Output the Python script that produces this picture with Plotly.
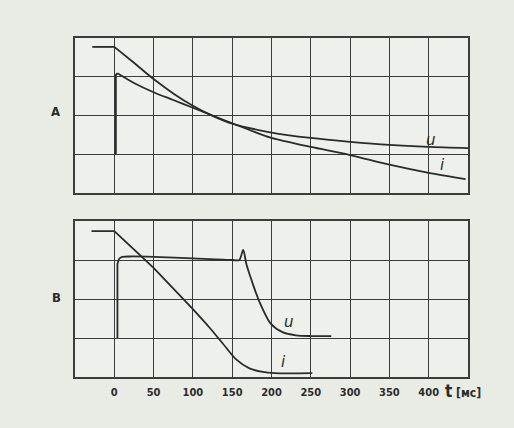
import plotly.graph_objects as go

# ---- data ----
t_ticks = [0, 50, 100, 150, 200, 250, 300, 350, 400]
tick_text = ["0", "50", "100", "150", "200", "250", "300", "350", "400"]

# Panel A
uA_t = [-28, 0, 25, 50, 75, 100, 125, 150, 200, 250, 300, 350, 400, 450]
uA_v = [3.77, 3.77, 3.36, 2.94, 2.57, 2.25, 1.99, 1.79, 1.56, 1.42, 1.32, 1.24, 1.19, 1.16]
iA_t = [2, 2, 4, 25, 50, 75, 100, 125, 150, 200, 250, 300, 350, 400, 447]
iA_v = [1.0, 3.05, 3.09, 2.84, 2.6, 2.4, 2.2, 2.0, 1.8, 1.42, 1.19, 0.98, 0.73, 0.52, 0.36]

# Panel B
iB_t = [-29, 0, 50, 100, 121, 138, 155, 172, 189, 204, 252]
iB_v = [3.74, 3.74, 2.8, 1.74, 1.27, 0.86, 0.45, 0.22, 0.13, 0.1, 0.1]
uB_t = [4, 4, 6, 10, 20, 50, 100, 150, 159, 164, 168, 174, 184, 199, 214, 231, 250, 276]
uB_v = [1.0, 2.9, 3.03, 3.08, 3.09, 3.08, 3.04, 3.0, 3.0, 3.26, 2.9, 2.52, 1.96, 1.37, 1.15, 1.07, 1.05, 1.05]

ink = "#2b2b2b"
grid = "#3c3c3c"

fig = go.Figure()


def add_curve(t, v, xa, ya, split):
    """straight lead-in (flat/vertical) segments + smooth decaying tail"""
    fig.add_trace(go.Scatter(x=t[:split + 1], y=v[:split + 1], mode="lines",
                             line=dict(color=ink, width=1.8), xaxis=xa, yaxis=ya, hoverinfo="skip"))
    fig.add_trace(go.Scatter(x=t[split:], y=v[split:], mode="lines",
                             line=dict(color=ink, width=1.8, shape="spline", smoothing=0.8),
                             xaxis=xa, yaxis=ya, hoverinfo="skip"))


add_curve(uA_t, uA_v, "x", "y", 1)
add_curve(iA_t, iA_v, "x", "y", 2)
add_curve(iB_t, iB_v, "x2", "y2", 3)
add_curve(uB_t, uB_v, "x2", "y2", 2)

ax_common = dict(range=[-50, 450], tickvals=t_ticks, showgrid=True, gridcolor=grid, gridwidth=1.3,
                 showline=True, linecolor=grid, linewidth=1.5, mirror=True, zeroline=False,
                 fixedrange=True)
ay_common = dict(range=[0, 4], dtick=1, showgrid=True, gridcolor=grid, gridwidth=1.3,
                 showline=True, linecolor=grid, linewidth=1.5, mirror=True, zeroline=False,
                 showticklabels=False, fixedrange=True)

lab_font = dict(family="DejaVu Sans", size=15, color=ink)
annotations = [
    dict(x=403, y=1.38, xref="x", yref="y", text="<i>u</i>", showarrow=False, font=lab_font),
    dict(x=418, y=0.72, xref="x", yref="y", text="<i>i</i>", showarrow=False, font=lab_font),
    dict(x=222, y=1.4, xref="x2", yref="y2", text="<i>u</i>", showarrow=False, font=lab_font),
    dict(x=215, y=0.38, xref="x2", yref="y2", text="<i>i</i>", showarrow=False, font=lab_font),
    dict(x=55, y=112, xref="paper", yref="paper", text="<b>А</b>", showarrow=False,
         font=dict(family="DejaVu Sans Condensed", size=13, color=ink)),
    dict(x=56, y=297, xref="paper", yref="paper", text="<b>В</b>", showarrow=False,
         font=dict(family="DejaVu Sans Condensed", size=13, color=ink)),
    dict(x=443, y=-0.04, xref="x2", yref="paper", yanchor="middle",
         text="<span style='font-size:17px'>t</span> [мс]", showarrow=False,
         font=dict(family="DejaVu Sans Condensed", size=12, color=ink, weight="bold")),
]
W, H = 514, 428
ml, mr, mt, mb = 75, 46, 38, 51
pw, ph = W - ml - mr, H - mt - mb
for a in annotations:
    if a["xref"] == "paper" and a["yref"] == "paper":
        a["x"] = (a["x"] - ml) / pw
        a["y"] = (H - mb - a["y"]) / ph
        a["xanchor"] = "center"
        a["yanchor"] = "middle"

fig.update_layout(
    width=W, height=H,
    margin=dict(l=ml, r=mr, t=mt, b=mb),
    paper_bgcolor="#e9ebe5",
    plot_bgcolor="#eef0ec",
    showlegend=False,
    xaxis=dict(**ax_common, domain=[0, 1], anchor="y", showticklabels=False),
    yaxis=dict(**ay_common, domain=[(377 - 193) / 339, 1], anchor="x"),
    xaxis2=dict(**ax_common, domain=[0, 1], anchor="y2", showticklabels=True, ticktext=tick_text,
                tickfont=dict(family="DejaVu Sans Condensed", size=11, color=ink, weight="bold"),
                ticks="", ticklabelstandoff=4),
    yaxis2=dict(**ay_common, domain=[0, (377 - 221) / 339], anchor="x2"),
    annotations=annotations,
)

fig.write_html("out.html", config={"displayModeBar": False},
               post_script="document.body.style.margin='0';document.body.style.background='#e9ebe5';")
